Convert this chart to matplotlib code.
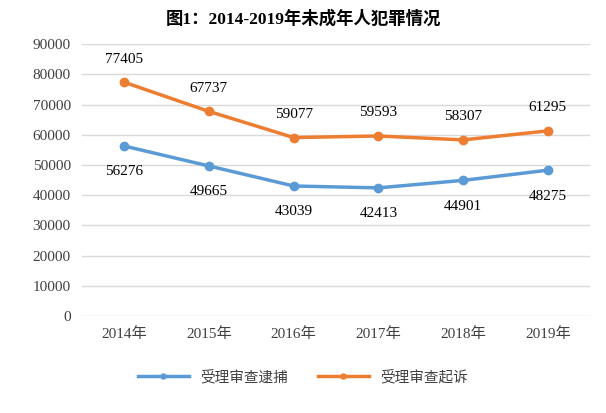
import matplotlib.pyplot as plt

plt.rcParams['font.family'] = ['Liberation Serif', 'Noto Sans CJK SC']

years = ['2014年', '2015年', '2016年', '2017年', '2018年', '2019年']
arrest = [56276, 49665, 43039, 42413, 44901, 48275]
prosecute = [77405, 67737, 59077, 59593, 58307, 61295]

fig = plt.figure(figsize=(6.06, 4.13), dpi=100)
ax = fig.add_axes([0.135, 0.235, 0.839, 0.658])

x = range(len(years))
ax.plot(x, arrest, color='#5B9BD5', lw=2.5, marker='o', ms=6, label='受理审查逮捕')
ax.plot(x, prosecute, color='#ED7D31', lw=2.5, marker='o', ms=6, label='受理审查起诉')

for i, v in enumerate(arrest):
    ax.annotate(str(v), (i, v), xytext=(0, -14), textcoords='offset points',
                ha='center', va='top', fontsize=11)
for i, v in enumerate(prosecute):
    ax.annotate(str(v), (i, v), xytext=(0, 12), textcoords='offset points',
                ha='center', va='bottom', fontsize=11)

ax.set_xlim(-0.5, len(years) - 0.5)
ax.set_ylim(0, 90000)
ax.set_yticks(range(0, 90001, 10000))
ax.set_xticks(list(x))
ax.set_xticklabels(years)
ax.tick_params(length=0, labelsize=11, colors='#404040', pad=8)
ax.grid(axis='y', color='#D9D9D9', lw=1)
ax.set_axisbelow(True)
for s in ax.spines.values():
    s.set_visible(False)

fig.suptitle('图1：2014-2019年未成年人犯罪情况', fontsize=12.5, fontweight='bold', y=0.975)
fig.legend(loc='center', bbox_to_anchor=(0.5, 0.087), ncol=2, frameon=False,
           fontsize=10.5, handlelength=3.5, columnspacing=2, markerscale=0.6,
           labelcolor='#404040')

fig.savefig('out.png', dpi=100)
